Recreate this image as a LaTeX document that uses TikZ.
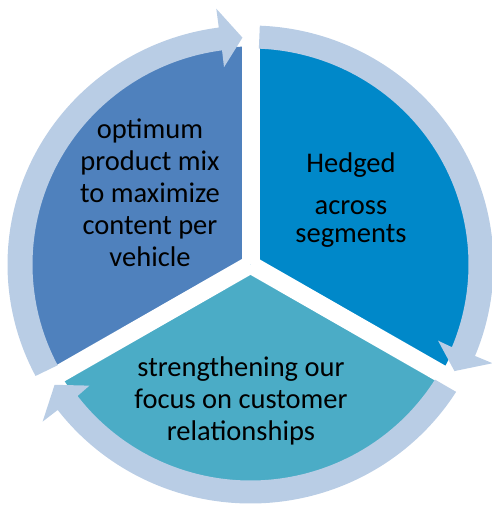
\documentclass[tikz,border=0pt]{standalone}
\usepackage{fontspec}
\setmainfont{Carlito}
\definecolor{mixblue}{HTML}{4F81BD}
\definecolor{hedgeblue}{HTML}{0088C9}
\definecolor{focusaqua}{HTML}{4BACC6}
\definecolor{ringblue}{HTML}{B9CDE5}
\begin{document}
\begin{tikzpicture}[x=1pt, y=1pt,
   every node/.style={font=\fontsize{28.5}{32}\selectfont, align=center, inner sep=0pt},
   gap/.style={white, line width=18pt},
   ring/.style={fill=ringblue}]
\useasboundingbox (0,0) rectangle (492,507);
\coordinate (c) at (250.5,242.5);
% the three segments
\fill[mixblue, shift={(c)}] (0,0) -- (90:220pt and 218pt)
   arc[start angle=90, end angle=210, x radius=220pt, y radius=218pt] -- cycle;
\fill[focusaqua, shift={(c)}] (0,0) -- (210:220pt and 218pt)
   arc[start angle=210, end angle=330, x radius=220pt, y radius=218pt] -- cycle;
\fill[hedgeblue, shift={(c)}] (0,0) -- (330:220pt and 218pt)
   arc[start angle=330, end angle=450, x radius=220pt, y radius=218pt] -- cycle;
\foreach \a in {90,210,330}
   \draw[gap, shift={(c)}] (0,0) -- (\a:232pt and 230pt);
% cycle arrows
\foreach \s/\t in {87.8/-28, -32.2/-148, 207.8/92}{
   \pgfmathsetmacro\h{\t+5.5}
   \fill[ring, shift={(c)}] (\s:243pt and 239pt)
      arc[start angle=\s, end angle=\h, x radius=243pt, y radius=239pt]
      -- (\h:262pt and 258pt) -- (\t:231pt and 227pt) -- (\h:203pt and 199pt)
      -- (\h:218pt and 216pt)
      arc[start angle=\h, end angle=\s, x radius=218pt, y radius=216pt] -- cycle;
}
\node (mix) at (150,314) {optimum\\product mix\\to maximize\\content per\\vehicle};
\node (hedge) at (351,307) {Hedged\\[10pt]across\\[-4pt]segments};
\node (focus) at (241,106) {strengthening our\\focus on customer\\relationships};
\end{tikzpicture}
\end{document}
